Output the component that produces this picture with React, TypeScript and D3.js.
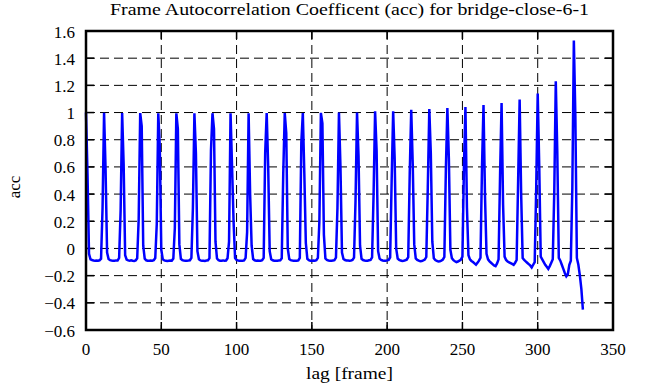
import React from "react";
import * as d3 from "d3";

const W = 656;
const H = 387;

const title = "Frame Autocorrelation Coefficent (acc) for bridge-close-6-1";
const xLabel = "lag [frame]";
const yLabel = "acc";

const xTicks = [0, 50, 100, 150, 200, 250, 300, 350];
const yTicks = [-0.6, -0.4, -0.2, 0, 0.2, 0.4, 0.6, 0.8, 1, 1.2, 1.4, 1.6];

// acc value for lag 0..330 (one row per 12-frame cycle)
const acc = [
  1.0, 0.55, -0.04, -0.08, -0.085, -0.088, -0.09, -0.088, -0.09, -0.087, -0.075, 0.3,
  0.998, 0.58, -0.03, -0.078, -0.086, -0.089, -0.09, -0.091, -0.088, -0.089, -0.07, 0.28,
  0.997, 0.62, -0.05, -0.082, -0.088, -0.09, -0.087, -0.09, -0.092, -0.088, -0.072, 0.22,
  0.996, 0.9, 0.02, -0.075, -0.087, -0.09, -0.091, -0.089, -0.09, -0.086, -0.07, 0.18,
  0.995, 0.75, -0.01, -0.08, -0.088, -0.09, -0.092, -0.09, -0.088, -0.09, -0.074, 0.15,
  0.994, 0.88, 0.03, -0.076, -0.086, -0.089, -0.091, -0.09, -0.089, -0.087, -0.07, 0.3,
  0.994, 0.7, -0.02, -0.08, -0.088, -0.09, -0.09, -0.092, -0.089, -0.088, -0.071, 0.72,
  0.995, 0.88, 0.05, -0.074, -0.086, -0.09, -0.09, -0.088, -0.091, -0.089, -0.072, 0.05,
  0.994, 0.6, 0.2, -0.07, -0.085, -0.089, -0.09, -0.091, -0.09, -0.088, -0.07, 0.12,
  0.995, 0.4, 0.02, -0.078, -0.087, -0.09, -0.089, -0.09, -0.09, -0.087, -0.07, 0.7,
  0.996, 0.6, -0.02, -0.08, -0.087, -0.09, -0.091, -0.09, -0.089, -0.088, -0.072, 0.55,
  0.996, 0.85, 0.0, -0.078, -0.086, -0.089, -0.09, -0.09, -0.091, -0.088, -0.07, 0.78,
  0.997, 0.55, 0.04, -0.076, -0.086, -0.09, -0.09, -0.089, -0.09, -0.087, -0.07, 0.2,
  0.998, 0.92, 0.1, -0.074, -0.085, -0.089, -0.09, -0.09, -0.088, -0.086, -0.068, 0.3,
  1.0, 0.6, -0.03, -0.078, -0.085, -0.088, -0.089, -0.09, -0.088, -0.085, -0.068, 0.35,
  1.0, 0.68, 0.02, -0.076, -0.085, -0.088, -0.09, -0.09, -0.087, -0.084, -0.066, 0.4,
  1.01, 0.72, -0.02, -0.075, -0.084, -0.088, -0.09, -0.091, -0.088, -0.084, -0.065, 0.5,
  1.01, 0.66, 0.0, -0.074, -0.084, -0.089, -0.092, -0.09, -0.087, -0.083, -0.064, 0.55,
  1.02, 0.62, 0.03, -0.073, -0.084, -0.09, -0.094, -0.092, -0.088, -0.082, -0.063, 0.45,
  1.026, 0.7, 0.05, -0.072, -0.085, -0.092, -0.096, -0.094, -0.089, -0.082, -0.062, 0.58,
  1.034, 0.66, -0.01, -0.072, -0.086, -0.094, -0.1, -0.096, -0.09, -0.082, -0.06, 0.6,
  1.04, 0.3, -0.05, -0.08, -0.092, -0.1, -0.11, -0.12, -0.105, -0.09, -0.068, 0.6,
  1.055, 0.38, -0.04, -0.08, -0.095, -0.105, -0.115, -0.125, -0.13, -0.11, -0.08, 0.54,
  1.07, 0.32, -0.06, -0.085, -0.096, -0.102, -0.108, -0.114, -0.12, -0.105, -0.085, 0.5,
  1.095, 0.4, -0.07, -0.085, -0.095, -0.105, -0.115, -0.125, -0.14, -0.12, -0.1, 0.445,
  1.14, 0.615, -0.06, -0.08, -0.1, -0.12, -0.135, -0.15, -0.13, -0.105, -0.08, 0.42,
  1.23, 0.71, -0.07, -0.09, -0.12, -0.15, -0.18, -0.205, -0.19, -0.12, -0.09, 0.45,
  1.53, 0.975, -0.07, -0.12, -0.2, -0.3, -0.45,
];
const lags = d3.range(acc.length);

const left = 86;
const right = 613;
const top = 31;
const bottom = 330;

export default function App() {
  const x = d3.scaleLinear().domain([0, 350]).range([left, right]);
  const y = d3.scaleLinear().domain([-0.6, 1.6]).range([bottom, top]);
  const line = d3
    .line<number>()
    .x((d, i) => x(lags[i]))
    .y((d) => y(d));
  const font = "'Liberation Serif', 'Times New Roman', serif";
  const tick = 8;
  return (
    <svg
      width={W}
      height={H}
      style={{ position: "absolute", left: 0, top: 0, background: "#fff" }}
      fontFamily={font}
    >
      <rect x={0} y={0} width={W} height={H} fill="#fff" />
      {xTicks.slice(1, -1).map((t) => (
        <line
          key={"gx" + t}
          x1={x(t)}
          x2={x(t)}
          y1={top}
          y2={bottom}
          stroke="#000"
          strokeWidth={1}
          strokeDasharray="9,5"
        />
      ))}
      {yTicks.slice(1, -1).map((t) => (
        <line
          key={"gy" + t}
          x1={left}
          x2={right}
          y1={y(t)}
          y2={y(t)}
          stroke="#000"
          strokeWidth={1}
          strokeDasharray="9,5"
        />
      ))}
      {xTicks.map((t) => (
        <g key={"tx" + t}>
          <line x1={x(t)} x2={x(t)} y1={bottom} y2={bottom - tick} stroke="#000" strokeWidth={1.5} />
          <line x1={x(t)} x2={x(t)} y1={top} y2={top + tick} stroke="#000" strokeWidth={1.5} />
          <text x={x(t)} y={bottom + 25} textAnchor="middle" fontSize={17} fill="#000">
            {t}
          </text>
        </g>
      ))}
      {yTicks.map((t) => (
        <g key={"ty" + t}>
          <line x1={left} x2={left + tick} y1={y(t)} y2={y(t)} stroke="#000" strokeWidth={1.5} />
          <line x1={right} x2={right - tick} y1={y(t)} y2={y(t)} stroke="#000" strokeWidth={1.5} />
          <text x={75} y={y(t) + 6.5} textAnchor="end" fontSize={17} fill="#000">
            {d3.format("~g")(+t.toFixed(1))}
          </text>
        </g>
      ))}
      <path d={line(acc) || ""} fill="none" stroke="#0000ff" strokeWidth={2.5} strokeLinejoin="miter" />
      <rect
        x={left}
        y={top}
        width={right - left}
        height={bottom - top}
        fill="none"
        stroke="#000"
        strokeWidth={2.5}
      />
      <text
        x={(left + right) / 2}
        y={15}
        textAnchor="middle"
        fontSize={17}
        fill="#000"
        textLength={479}
        lengthAdjust="spacingAndGlyphs"
      >
        {title}
      </text>
      <text
        x={(left + right) / 2}
        y={379}
        textAnchor="middle"
        fontSize={17}
        fill="#000"
        textLength={87}
        lengthAdjust="spacingAndGlyphs"
      >
        {xLabel}
      </text>
      <text
        transform={`translate(20,187) rotate(-90)`}
        textAnchor="middle"
        fontSize={17}
        fill="#000"
      >
        {yLabel}
      </text>
    </svg>
  );
}
